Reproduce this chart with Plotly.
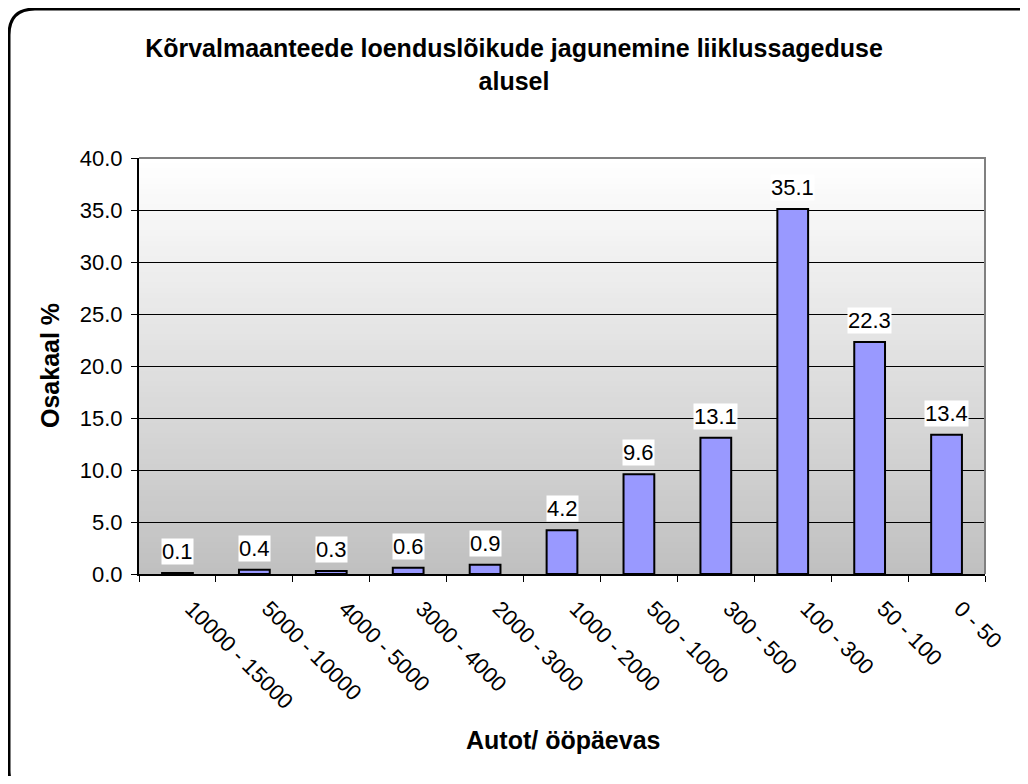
import plotly.graph_objects as go

# data
categories = ["10000 - 15000", "5000 - 10000", "4000 - 5000", "3000 - 4000",
              "2000 - 3000", "1000 - 2000", "500 - 1000", "300 - 500",
              "100 - 300", "50 - 100", "0 - 50"]
shares = [0.1, 0.4, 0.3, 0.6, 0.9, 4.2, 9.6, 13.1, 35.1, 22.3, 13.4]

# the page body has an 8px margin, so work in reference pixels minus 8
OFF = 8
W, H = 1012, 768
L, R, T, B = 139 - OFF, 985 - OFF, 158 - OFF, 574 - OFF   # plot area


def px(x):
    return (x - OFF - L) / (R - L)


def py(y):
    return (B - (y - OFF)) / (B - T)


FONT = "Liberation Sans, Arial, sans-serif"

fig = go.Figure()
fig.add_trace(go.Bar(
    x=categories, y=shares,
    marker=dict(color="#9999FF", line=dict(color="black", width=2)),
    width=0.4,
    hoverinfo="x+y",
))

# value labels with white boxes
for c, v in zip(categories, shares):
    fig.add_annotation(x=c, y=v, text=f"{v:.1f}", showarrow=False,
                       yanchor="bottom", yshift=8, bgcolor="white", borderpad=0,
                       font=dict(size=22, color="black"))

shapes = []
# gradient background of the plot area
n = 80
for i in range(n):
    t = i / (n - 1)
    g = int(round(192 + (255 - 192) * t))
    shapes.append(dict(type="rect", xref="paper", yref="paper", layer="below",
                       x0=0, x1=1, y0=i / n, y1=(i + 1) / n + 0.002,
                       line=dict(width=0), fillcolor=f"rgb({g},{g},{g})"))
# gray top/right edges of the plot area
shapes.append(dict(type="path", xref="paper", yref="paper",
                   path="M 0 1 L 1 1 L 1 0", line=dict(color="#808080", width=2)))

# rounded outer frame (runs off the right and bottom of the image)
x0, x1, y0, y1, r = 9, 1045, 9, 796, 26
path = (f"M {px(x0 + r)} {py(y0)} L {px(x1 - r)} {py(y0)} "
        f"Q {px(x1)} {py(y0)} {px(x1)} {py(y0 + r)} "
        f"L {px(x1)} {py(y1 - r)} Q {px(x1)} {py(y1)} {px(x1 - r)} {py(y1)} "
        f"L {px(x0 + r)} {py(y1)} Q {px(x0)} {py(y1)} {px(x0)} {py(y1 - r)} "
        f"L {px(x0)} {py(y0 + r)} Q {px(x0)} {py(y0)} {px(x0 + r)} {py(y0)} Z")
shapes.append(dict(type="path", xref="paper", yref="paper", path=path,
                   line=dict(color="black", width=3)))

fig.update_layout(
    width=W, height=H,
    margin=dict(l=L, r=W - R, t=T, b=H - B),
    paper_bgcolor="white", plot_bgcolor="white",
    font=dict(family=FONT, color="black", size=22),
    showlegend=False,
    shapes=shapes,
    title=dict(text="<b>Kõrvalmaanteede loenduslõikude jagunemine liiklussageduse<br>alusel</b>",
               xref="container", yref="container",
               x=(514 - OFF) / W, xanchor="center",
               y=1 - (57 - OFF) / H, yanchor="middle",
               font=dict(size=25, family=FONT)),
    xaxis=dict(type="category", tickangle=45, tickson="boundaries",
               ticks="outside", ticklen=6, tickcolor="black",
               showline=True, linecolor="black", linewidth=2,
               showgrid=False, tickfont=dict(size=22),
               ticklabelshift=14, ticklabelstandoff=11),
    yaxis=dict(range=[0, 40], dtick=5, tickformat=".1f",
               ticks="outside", ticklen=6, tickcolor="black",
               showline=True, linecolor="black", linewidth=2,
               showgrid=True, gridcolor="black", gridwidth=1,
               zeroline=False, tickfont=dict(size=22),
               ticklabelstandoff=4),
)

# axis titles
fig.add_annotation(text="<b>Osakaal %</b>", xref="paper", yref="paper",
                   x=px(66), y=py(366), xanchor="right", textangle=-90,
                   showarrow=False, font=dict(size=25))
fig.add_annotation(text="<b>Autot/ ööpäevas</b>", xref="paper", yref="paper",
                   x=px(563), y=py(756), showarrow=False,
                   font=dict(size=25))

fig.write_html("out.html")
